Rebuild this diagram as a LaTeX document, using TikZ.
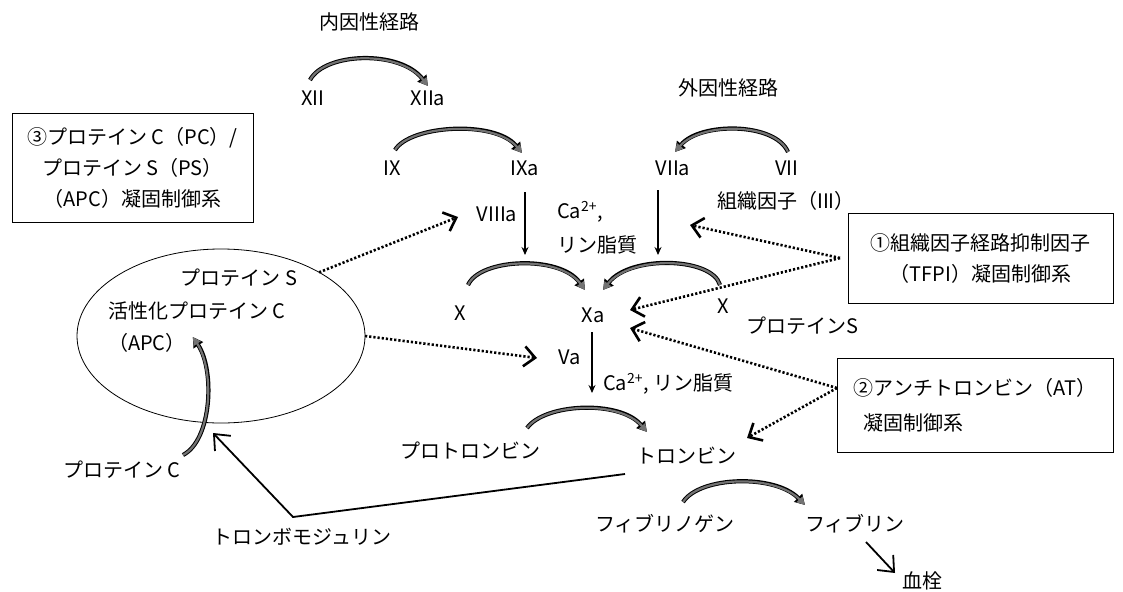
\documentclass[tikz,border=0pt]{standalone}
\usepackage{fontspec}
\setmainfont{Noto Sans CJK JP}
\usetikzlibrary{arrows.meta,shapes.geometric}
\begin{document}
\begin{tikzpicture}[x=1pt,y=-1pt,
  every node/.style={font=\fontsize{20}{24}\selectfont, inner sep=0pt, outer sep=0pt},
  box/.style={draw, line width=0.8pt, font=\fontsize{20}{31}\selectfont},
  conv/.style={preaction={draw=black, line width=4.2pt, -{Triangle[length=10pt,width=11pt]}},
               line width=2.2pt, draw=black!55, -{Triangle[length=8pt,width=8pt]}},
  thinarr/.style={line width=1.2pt, -{Stealth[length=8pt,width=7pt]}},
  inh/.style={line width=2.6pt, dash pattern=on 2.2pt off 2pt, -{Straight Barb[length=11pt,width=20pt]}},
  openarr/.style={line width=1.8pt, -{Straight Barb[length=13pt,width=22pt]}}]
\useasboundingbox (0,0) rectangle (1123,591);

% titles
\node (intr) at (369,22) {内因性経路};
\node (extr) at (728,88) {外因性経路};

% factors
\node (XII) at (313,98) {XII};
\node (XIIa) at (428,98) {XIIa};
\node (IX) at (392,168) {IX};
\node (IXa) at (525,168) {IXa};
\node (VIIa) at (673,168) {VIIa};
\node (VII) at (787,168) {VII};
\node (TF) at (786,201) {組織因子（III）};
\node (VIIIa) at (497,214) {VIIIa};
\node[anchor=west] (ca1) at (557,212) {Ca\textsuperscript{2+},};
\node[anchor=west] (lp1) at (557,245) {リン脂質};
\node (Xl) at (460,313) {X};
\node (Xa) at (593,315) {Xa};
\node (Xr) at (723,306) {X};
\node (PSr) at (802,326) {プロテインS};
\node (Va) at (570,357) {Va};
\node[anchor=west] (ca2) at (603,384) {Ca\textsuperscript{2+}, リン脂質};
\node (PT) at (470,451) {プロトロンビン};
\node (T) at (686,456) {トロンビン};
\node (Fg) at (665,524) {フィブリノゲン};
\node (Fb) at (855,524) {フィブリン};
\node (K) at (922,581) {血栓};
\node (PC) at (122,470) {プロテイン C};
\node (TM) at (302,537) {トロンボモジュリン};

% ellipse
\node[draw, ellipse, line width=0.8pt, minimum width=288pt, minimum height=174pt] (E) at (221,336) {};
\node[anchor=east] (PSe) at (297,278) {プロテイン S};
\node[anchor=west] (APCt) at (108,311) {活性化プロテイン C};
\node[anchor=west] (APC) at (108,343) {（APC）};

% boxes
\node[box, minimum width=241pt, minimum height=109pt, align=center] (B3) at (132.5,167.5)
  {③プロテイン C（PC）/\\プロテイン S（PS）\\（APC）凝固制御系};
\node[box, minimum width=265pt, minimum height=90pt, align=center] (B1) at (980.5,258)
  {①組織因子経路抑制因子\\（TFPI）凝固制御系};
\node[box, minimum width=276pt, minimum height=94pt, align=left, font=\fontsize{20}{35}\selectfont] (B2) at (975,405)
  {②アンチトロンビン（AT）\\\hspace{10pt}凝固制御系};

% conversion arcs
\draw[conv] ([shift={(-3,-18)}]XII.center) .. controls (325,52) and (400,50) .. ([shift={(0,-12)}]XIIa.center);
\draw[conv] ([shift={(3,-18)}]IX.center) .. controls (410,125) and (495,120) .. ([shift={(-3,-15)}]IXa.center);
\draw[conv] ([shift={(1,-16)}]VII.center) .. controls (775,122) and (700,122) .. ([shift={(2,-16)}]VIIa.center);
\draw[conv] ([shift={(8,-28)}]Xl.center) .. controls (480,258) and (560,255) .. ([shift={(-8,-25)}]Xa.center);
\draw[conv] ([shift={(-3,-21)}]Xr.center) .. controls (712,257) and (630,255) .. ([shift={(10,-25)}]Xa.center);
\draw[conv] ([shift={(57,-23)}]PT.center) .. controls (545,403) and (620,400) .. ([shift={(-39,-24)}]T.center);
\draw[conv] ([shift={(18,-22)}]Fg.center) .. controls (700,476) and (775,474) .. ([shift={(-50,-19)}]Fb.center);
\draw[conv] ([shift={(61,-15)}]PC.center) .. controls (212,440) and (215,370) .. ([shift={(46,-6)}]APC.center);

% straight arrows
\draw[thinarr] ([shift={(28,-22)}]VIIIa.center) -- ([shift={(28,41)}]VIIIa.center);
\draw[thinarr] ([shift={(-15,22)}]VIIa.center) -- ([shift={(-15,87)}]VIIa.center);
\draw[thinarr] ([shift={(22,-25)}]Va.center) -- ([shift={(22,36)}]Va.center);
\draw[openarr] ([shift={(11,18)}]Fb.center) -- ([shift={(-27,-8)}]K.center);
\coordinate (tmtip) at (213,433);
\draw[openarr] ([shift={(-61,18)}]T.center) -- ([shift={(-9,-20)}]TM.center) -- (tmtip);

% inhibition (dotted) arrows
\draw[inh] (E.33) -- ([shift={(-39,3)}]VIIIa.center);
\draw[inh] (E.east) -- ([shift={(-33,1)}]Va.center);
\draw[inh] ([shift={(-8,0)}]B1.west) -- ([shift={(-96,24)}]TF.center);
\draw[inh] ([shift={(-8,0)}]B1.west) -- ([shift={(37,-5)}]Xa.center);
\draw[inh] ([shift={(0,-17)}]B2.west) -- ([shift={(37,13)}]Xa.center);
\draw[inh] ([shift={(0,-17)}]B2.west) -- ([shift={(61,-18)}]T.center);
\end{tikzpicture}
\end{document}
